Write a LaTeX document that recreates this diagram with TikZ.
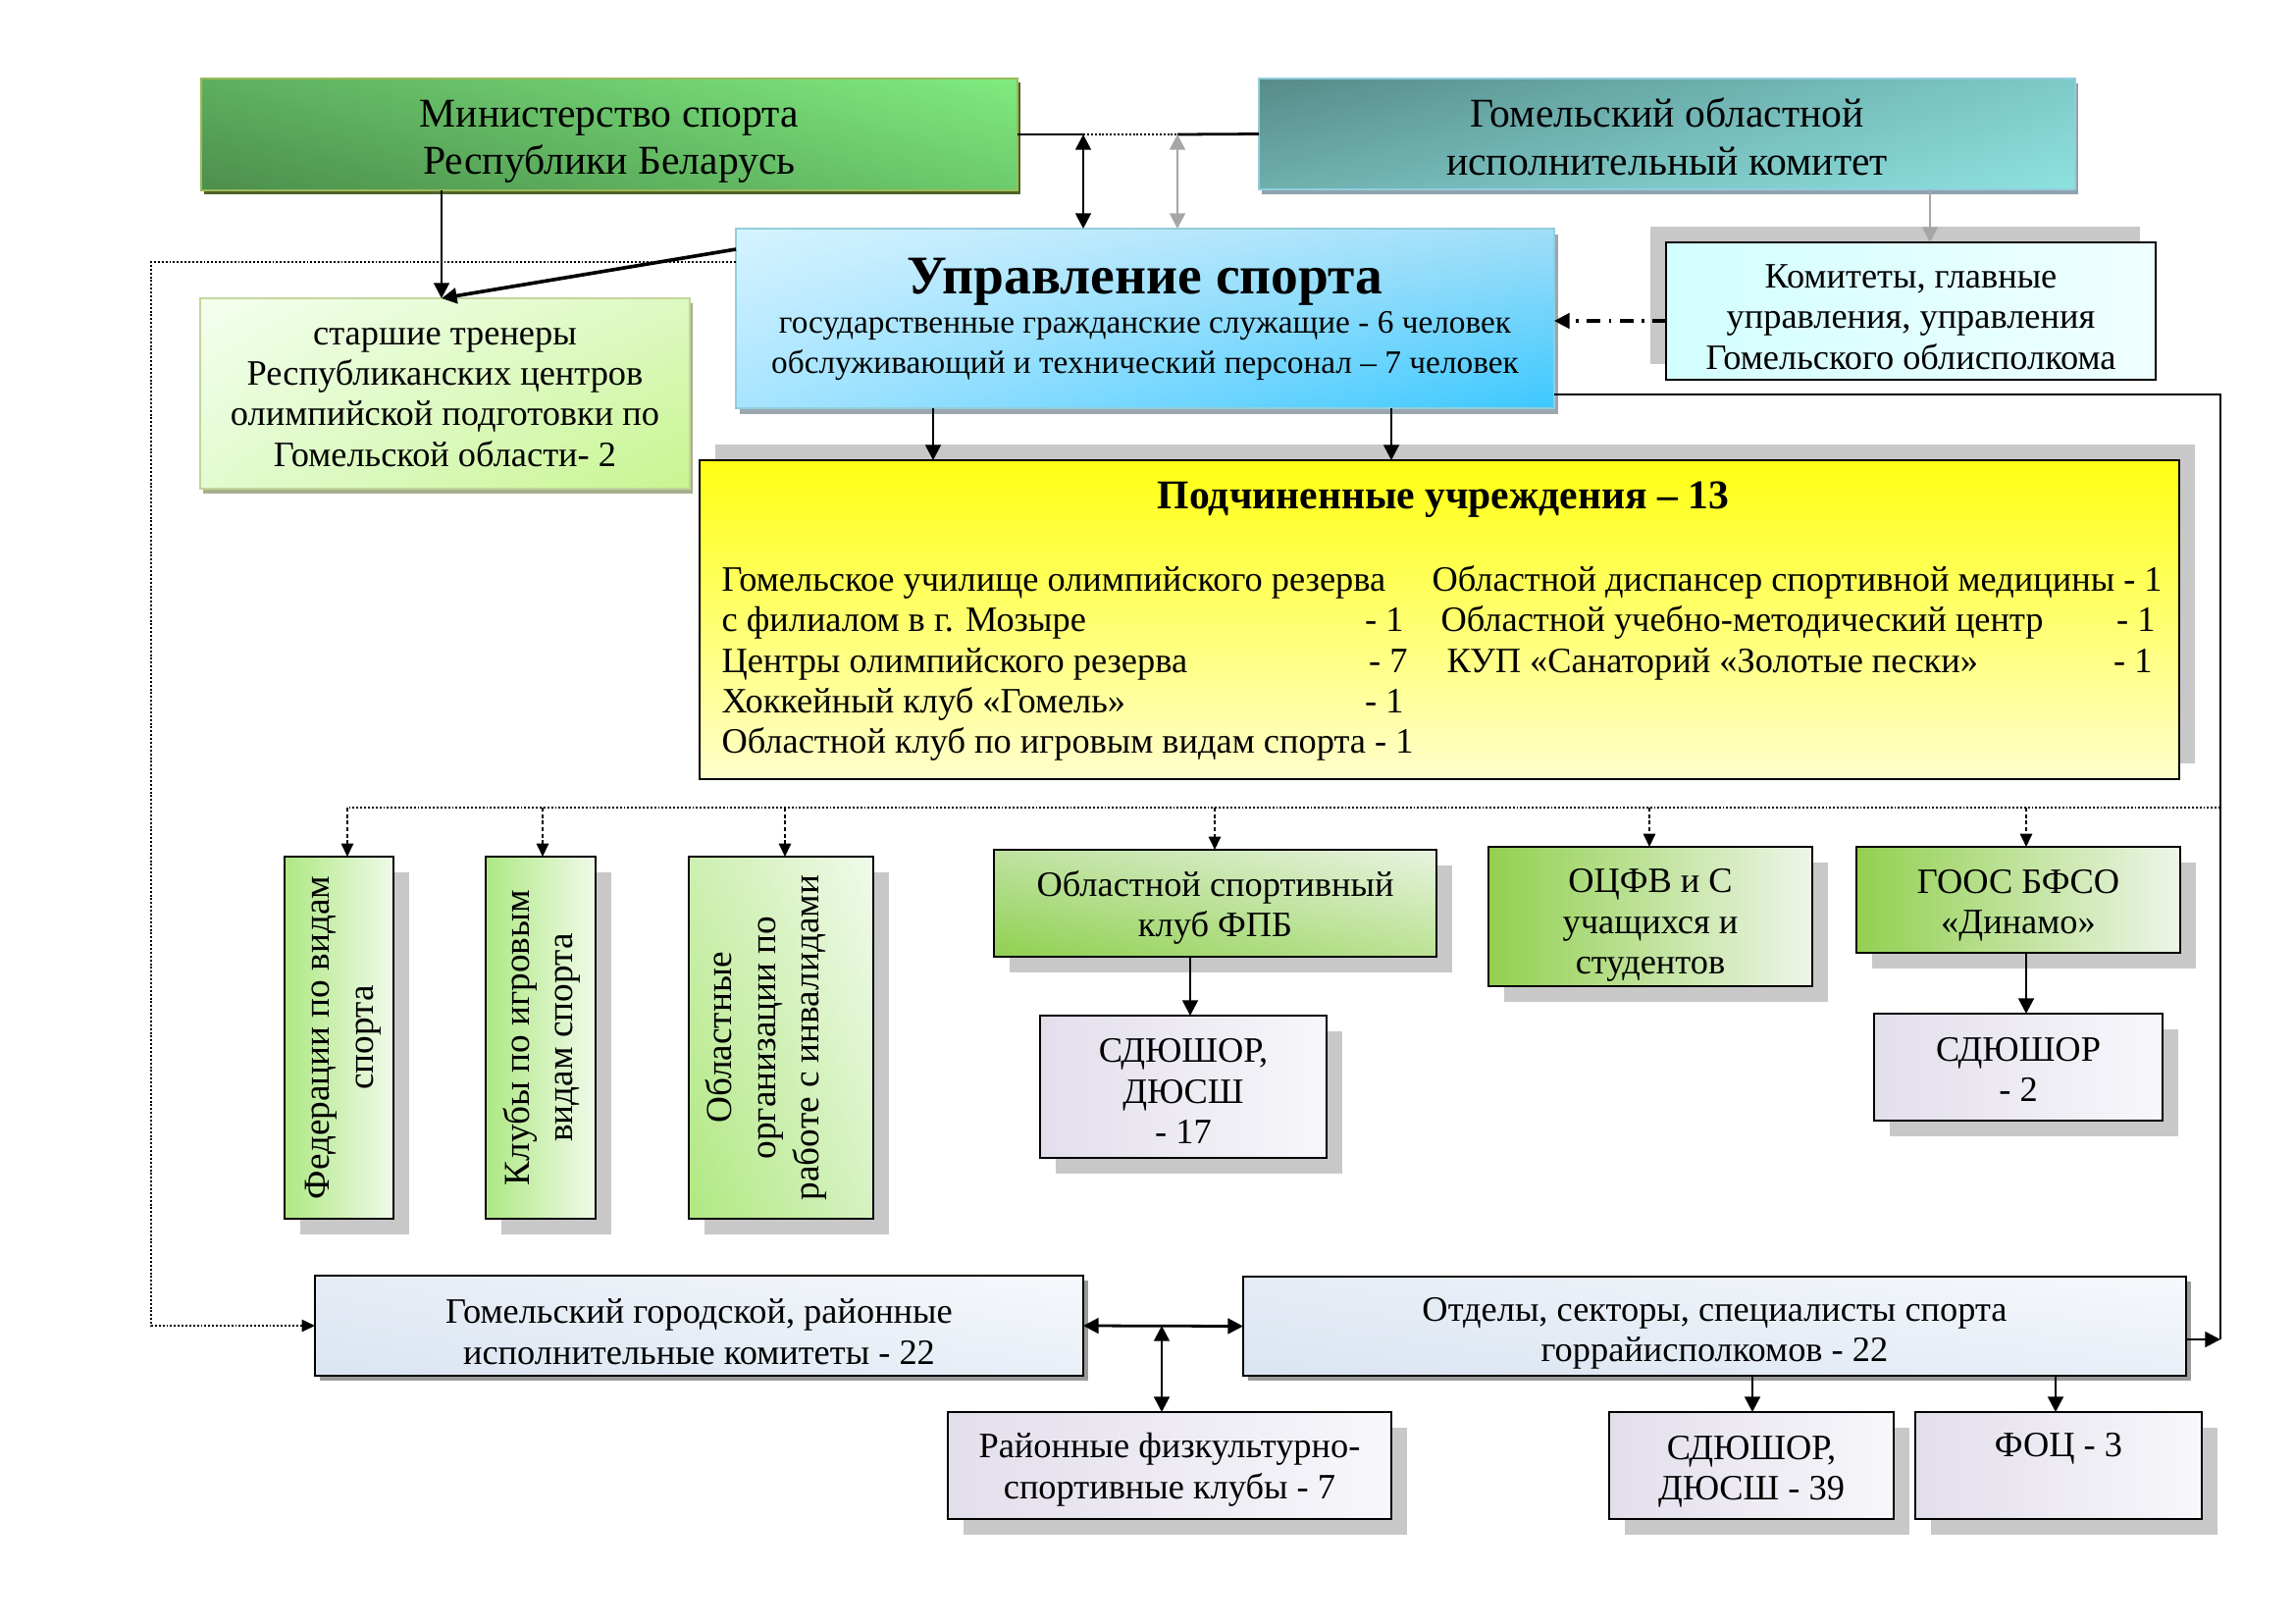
\documentclass[tikz,border=0pt]{standalone}
\usepackage{fontspec}
\setmainfont{Liberation Serif}
\usetikzlibrary{arrows.meta,shadows}

\definecolor{shgray}{HTML}{C8C8C8}
\definecolor{shdark}{HTML}{9A9A9A}
\definecolor{arrgray}{HTML}{A6A6A6}
\definecolor{minBorder}{HTML}{9BBB59}
\definecolor{minShadow}{HTML}{4F6228}
\definecolor{gomBorder}{HTML}{93CDDD}
\definecolor{gomShadow}{HTML}{8FA3AE}
\definecolor{uprBorder}{HTML}{92CDDC}
\definecolor{uprShadow}{HTML}{9BA6AE}
\definecolor{starBorder}{HTML}{C3D69B}
\definecolor{starShadow}{HTML}{A7AE8C}
\definecolor{komL}{HTML}{D3FEFE}
\definecolor{komR}{HTML}{EFFFFF}
\definecolor{yelT}{HTML}{FFFF12}
\definecolor{yelB}{HTML}{FFFFCC}
\definecolor{vL}{HTML}{AEE882}
\definecolor{vR}{HTML}{F0FAEA}
\definecolor{gL}{HTML}{92D050}
\definecolor{gR}{HTML}{EEF5E8}
\definecolor{lavL}{HTML}{E3DEEB}
\definecolor{lavR}{HTML}{F8F7FB}
% corner colours: lower left, lower right, upper left, upper right
\definecolor{minLL}{HTML}{4C8E4C}\definecolor{minLR}{HTML}{6CCB6C}
\definecolor{minUL}{HTML}{5FAF5F}\definecolor{minUR}{HTML}{80EB80}
\definecolor{gomLL}{HTML}{6FAFAE}\definecolor{gomLR}{HTML}{8DE2E0}
\definecolor{gomUL}{HTML}{568B89}\definecolor{gomUR}{HTML}{7DCAC8}
\definecolor{uprLL}{HTML}{A8E4FF}\definecolor{uprLR}{HTML}{3CC8FF}
\definecolor{uprUL}{HTML}{D6F3FF}\definecolor{uprUR}{HTML}{A0DEF8}
\definecolor{starLL}{HTML}{E2FBD0}\definecolor{starLR}{HTML}{C8F590}
\definecolor{starUL}{HTML}{F4FFEE}\definecolor{starUR}{HTML}{DDF9C2}
\definecolor{oblLL}{HTML}{B0E880}\definecolor{oblLR}{HTML}{D6F2C2}
\definecolor{oblUL}{HTML}{CDEFB0}\definecolor{oblUR}{HTML}{F0FAEA}
\definecolor{fpbLL}{HTML}{90D050}\definecolor{fpbLR}{HTML}{BBE294}
\definecolor{fpbUL}{HTML}{BEE2A0}\definecolor{fpbUR}{HTML}{E8F3E0}
\definecolor{lbLL}{HTML}{DAE4F1}\definecolor{lbLR}{HTML}{E9EFF7}
\definecolor{lbUL}{HTML}{E6ECF5}\definecolor{lbUR}{HTML}{F6F9FC}

% bilinear four-corner shading (inner 25bp..75bp square maps to the path box)
\newcommand\bch[4]{1 index #2 mul #1 add 2 index #1 mul sub 2 index #4 mul #3 add 3 index #3 mul sub 1 index sub 2 index mul add 3 1 roll }
\newcommand\bilin[5]{%
  \pgfdeclarefunctionalshading[#2,#3,#4,#5]{#1}{\pgfpointorigin}{\pgfpoint{100bp}{100bp}}{%
    \pgfshadecolortorgb{#2}{\cA}\pgfshadecolortorgb{#3}{\cB}%
    \pgfshadecolortorgb{#4}{\cC}\pgfshadecolortorgb{#5}{\cD}}{%
    25 sub 50 div exch 25 sub 50 div exch
    \bch{\cAred}{\cBred}{\cCred}{\cDred}
    \bch{\cAgreen}{\cBgreen}{\cCgreen}{\cDgreen}
    \bch{\cAblue}{\cBblue}{\cCblue}{\cDblue}
    pop pop}}
\bilin{minsh}{minLL}{minLR}{minUL}{minUR}
\bilin{gomsh}{gomLL}{gomLR}{gomUL}{gomUR}
\bilin{uprsh}{uprLL}{uprLR}{uprUL}{uprUR}
\bilin{starsh}{starLL}{starLR}{starUL}{starUR}
\bilin{oblsh}{oblLL}{oblLR}{oblUL}{oblUR}
\bilin{fpbsh}{fpbLL}{fpbLR}{fpbUL}{fpbUR}
\bilin{lbsh}{lbLL}{lbLR}{lbUL}{lbUR}

\newcommand\fsn{\fontsize{13.1}{14.9}\selectfont}
% name, x1, y1, x2, y2, box style, text options, text
\newcommand\mkbox[8]{%
  \node[#6, minimum width={(#4-#2)*0.36pt}, minimum height={(#5-#3)*0.36pt}]
    (#1) at ({(#2+#4)/2},{(#3+#5)/2}) {};
  \node[txt, #7] (#1t) at (#1.center) {#8};}

\tikzset{
  bigtri/.tip={Triangle[width=5.6pt,length=5.6pt]},
  smalltri/.tip={Triangle[width=4.4pt,length=4.8pt]},
  box/.style={draw, inner sep=0pt, outer sep=0pt, line width=1pt},
  txt/.style={align=center, inner sep=0pt, font=\fsn},
  big/.style={font=\fontsize{15}{17.5}\selectfont},
  shB/.style={general shadow={draw=none, fill=shgray, shadow xshift=5.8pt, shadow yshift=-5.8pt}},
  shC/.style={general shadow={draw=none, fill=shdark, shadow xshift=1.8pt, shadow yshift=-1.8pt}},
  minbox/.style={box, draw=minBorder, shading=minsh,
     general shadow={draw=none, fill=minShadow, shadow xshift=1.1pt, shadow yshift=-1.4pt}},
  gombox/.style={box, draw=gomBorder, shading=gomsh,
     general shadow={draw=none, fill=gomShadow, shadow xshift=1.1pt, shadow yshift=-1.7pt}},
  uprbox/.style={box, draw=uprBorder, shading=uprsh,
     general shadow={draw=none, fill=uprShadow, shadow xshift=1.4pt, shadow yshift=-2.1pt}},
  starbox/.style={box, draw=starBorder, shading=starsh,
     general shadow={draw=none, fill=starShadow, shadow xshift=1.1pt, shadow yshift=-1.8pt}},
  kombox/.style={box, left color=komL, right color=komR,
     general shadow={draw=none, fill=shgray, shadow xshift=-5.8pt, shadow yshift=5.8pt}},
  yelbox/.style={box, top color=yelT, bottom color=yelB,
     general shadow={draw=none, fill=shgray, shadow xshift=5.8pt, shadow yshift=5.8pt}},
  vbox/.style={box, shB, left color=vL, right color=vR},
  vboxd/.style={box, shB, shading=oblsh},
  vtext/.style={rotate=90, align=center, inner sep=0pt, font=\fontsize{13.4}{16}\selectfont},
  fpbbox/.style={box, shB, shading=fpbsh},
  grbox/.style={box, shB, left color=gL, right color=gR},
  lavbox/.style={box, shB, left color=lavL, right color=lavR},
  lbbox/.style={box, shC, shading=lbsh},
  ytext/.style={inner sep=0pt, font=\fsn},
  conn/.style={line width=1pt},
  arr/.style={conn, -bigtri},
  dbl/.style={conn, bigtri-bigtri},
  grayarr/.style={line width=1pt, draw=arrgray, bigtri-bigtri},
  grayone/.style={line width=1pt, draw=arrgray, -bigtri},
  dots/.style={line width=0.75pt, dash pattern=on 0.7pt off 0.7pt},
  dasharr/.style={line width=0.8pt, dash pattern=on 1.4pt off 1pt, -smalltri},
  dashdot/.style={line width=1.1pt, dash pattern=on 5pt off 3pt on 1pt off 3pt, -bigtri},
}

\begin{document}
\begin{tikzpicture}[x=0.36pt,y=-0.36pt]
\useasboundingbox (0,0) rectangle (2339,1654);

% ---- boxes ----
\mkbox{min}{205}{80}{1037}{194}{minbox}{big, yshift=-2.6pt}{Министерство спорта\\Республики Беларусь}
\mkbox{gom}{1283}{80}{2115}{193}{gombox}{big, yshift=-1.1pt}{Гомельский областной\\исполнительный комитет}
\mkbox{upr}{750}{233}{1584}{416}{uprbox}{font=\fontsize{12}{14.6}\selectfont, yshift=-0.3pt}{{\fontsize{20}{24}\selectfont\bfseries Управление спорта}\\государственные гражданские служащие - 6 человек\\обслуживающий и технический персонал – 7 человек}
\mkbox{star}{204}{304}{703}{498}{starbox}{yshift=-1.4pt}{старшие тренеры\\Республиканских центров\\олимпийской подготовки по\\Гомельской области- 2}
\mkbox{kom}{1698}{247}{2197}{387}{kombox}{yshift=-2.2pt}{Комитеты, главные\\управления, управления\\Гомельского облисполкома}
\node[yelbox, minimum width={(2221-713)*0.36pt}, minimum height={(794-469)*0.36pt}] (sub) at ({(713+2221)/2},{(469+794)/2}) {};

\mkbox{fed}{290}{873}{401}{1242}{vbox}{xshift=1.6pt, vtext}{Федерации по видам\\спорта}
\mkbox{klub}{495}{873}{607}{1242}{vbox}{xshift=0.5pt, vtext}{Клубы по игровым\\видам спорта}
\mkbox{obl}{702}{873}{890}{1242}{vboxd}{xshift=-5.5pt, vtext}{Областные\\организации по\\работе с инвалидами}

\mkbox{fpb}{1013}{866}{1464}{975}{fpbbox}{yshift=-1.6pt}{Областной спортивный\\клуб ФПБ}
\mkbox{ocfv}{1517}{863}{1847}{1005}{grbox}{yshift=-3.2pt}{ОЦФВ и С\\учащихся и\\студентов}
\mkbox{din}{1892}{863}{2222}{971}{grbox}{yshift=-2.2pt}{ГООС БФСО\\«Динамо»}
\mkbox{sdA}{1060}{1035}{1352}{1180}{lavbox}{yshift=-1.6pt}{СДЮШОР,\\ДЮСШ\\- 17}
\mkbox{sdB}{1910}{1033}{2204}{1142}{lavbox}{yshift=-0.8pt}{СДЮШОР\\- 2}
\mkbox{gor}{321}{1300}{1104}{1402}{lbbox}{yshift=-2.2pt}{Гомельский городской, районные\\исполнительные комитеты - 22}
\mkbox{otd}{1267}{1301}{2228}{1402}{lbbox}{yshift=-2.7pt}{Отделы, секторы, специалисты спорта\\горрайисполкомов - 22}
\mkbox{rfsk}{966}{1439}{1418}{1548}{lavbox}{yshift=-1.6pt}{Районные физкультурно-\\спортивные клубы - 7}
\mkbox{sdC}{1640}{1439}{1930}{1548}{lavbox}{yshift=-2.2pt}{СДЮШОР,\\ДЮСШ - 39}
\mkbox{foc}{1952}{1439}{2244}{1548}{lavbox}{}{ФОЦ - 3\\\mbox{}}

% ---- texts of the subordinate institutions ----
\node[ytext, anchor=base, font=\fontsize{15}{17}\selectfont\bfseries] (subt) at (1471,518) {Подчиненные учреждения – 13};
\node[ytext, anchor=base west] (l1) at (735,602) {Гомельское училище олимпийского резерва};
\node[ytext, anchor=base west] (l2) at (735,643) {с филиалом в г. Мозыре};
\node[ytext, anchor=base east] (l2n) at (1431,643) {- 1};
\node[ytext, anchor=base west] (l3) at (735,685) {Центры олимпийского резерва};
\node[ytext, anchor=base east] (l3n) at (1435,685) {- 7};
\node[ytext, anchor=base west] (l4) at (735,726) {Хоккейный клуб «Гомель»};
\node[ytext, anchor=base east] (l4n) at (1431,726) {- 1};
\node[ytext, anchor=base west] (l5) at (735,767) {Областной клуб по игровым видам спорта - 1};
\node[ytext, anchor=base west] (r1) at (1459,602) {Областной диспансер спортивной медицины - 1};
\node[ytext, anchor=base west] (r2) at (1468,643) {Областной учебно-методический центр};
\node[ytext, anchor=base east] (r2n) at (2197,643) {- 1};
\node[ytext, anchor=base west] (r3) at (1474,685) {КУП «Санаторий «Золотые пески»};
\node[ytext, anchor=base east] (r3n) at (2194,685) {- 1};

% ---- coordinates ----
\coordinate (jA) at (1104,137);
\coordinate (jB) at (1200,137);
\coordinate (pStar) at (450,304);
\coordinate (uprD) at (750,254);
\coordinate (uprL) at (750,267);
\coordinate (dl) at (154,1351);
\coordinate (rc) at (2263,402);
\coordinate (rb) at (2263,1365);
\coordinate (bus) at (354,823);
\coordinate (mid) at (1184,1351);

% ---- connectors ----
\draw[conn] (min.east) -- (jA);
\draw[dots, line width=1pt] (jA) -- (jB);
\draw[conn] (jB) -- (gom.west);
\draw[dbl] (jA) -- (jA |- upr.north);
\draw[grayarr] (jB) -- (jB |- upr.north);

\draw[arr] (pStar |- min.south) -- (pStar);
\draw[arr, line width=1.3pt] (uprD) -- (pStar);
\draw[dots, -smalltri] (uprL) -| (dl) -- (gor.west);

\draw[arr] (upr.south -| 951,0) -- (sub.north -| 951,0);
\draw[arr] (upr.south -| 1418,0) -- (sub.north -| 1418,0);

\draw[dashdot] (kom.west |- 0,327) -- (upr.east |- 0,327);
\draw[grayone] (gom.south -| 1967,0) -- (kom.north -| 1967,0);

\draw[line width=0.8pt] (upr.east |- rc) -- (rc) -- (rb);
\draw[arr] (otd.east |- rb) -- (rb);

\draw[dots] (rc |- bus) -- (bus);
\draw[dasharr] (bus) -- (bus |- fed.north);
\draw[dasharr] (553,823) -- (klub.north -| 553,0);
\draw[dasharr] (800,823) -- (obl.north -| 800,0);
\draw[dasharr] (1238,823) -- (fpb.north -| 1238,0);
\draw[dasharr] (1681,823) -- (ocfv.north -| 1681,0);
\draw[dasharr] (2065,823) -- (din.north -| 2065,0);

\draw[arr] (fpb.south -| 1213,0) -- (sdA.north -| 1213,0);
\draw[arr] (din.south -| 2065,0) -- (sdB.north -| 2065,0);

\draw[dbl] (gor.east) -- (otd.west);
\draw[dbl] (mid) -- (rfsk.north -| mid);
\draw[arr] (otd.south -| 1786,0) -- (sdC.north -| 1786,0);
\draw[arr] (otd.south -| 2095,0) -- (foc.north -| 2095,0);
\end{tikzpicture}
\end{document}
